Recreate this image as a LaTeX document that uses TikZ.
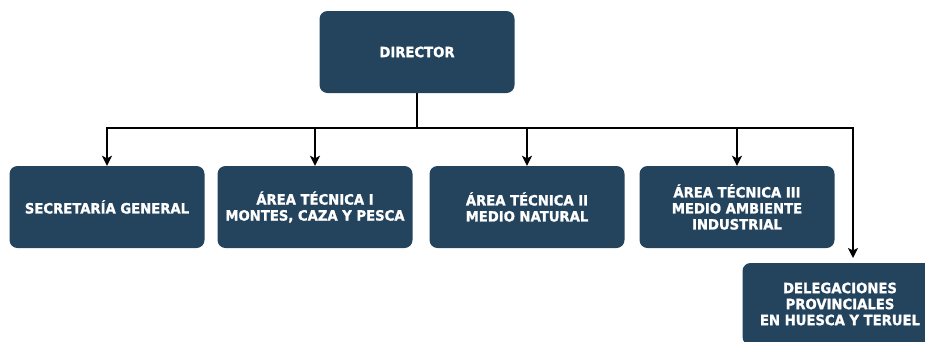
\documentclass[tikz,border=0pt]{standalone}
\usepackage{fontspec}
\setmainfont[FakeStretch=0.93,BoldFeatures={FakeBold=1.2}]{DejaVu Sans}
\usetikzlibrary{arrows.meta,calc}
\definecolor{boxblue}{RGB}{36,68,94}
\begin{document}
\begin{tikzpicture}[x=1pt,y=-1pt,
  orgbox/.style={fill=boxblue,rounded corners=8pt,minimum width=195pt,minimum height=82pt,
    inner sep=2pt,text=white,align=center,font=\fontsize{14.2}{16}\selectfont\bfseries},
  conn/.style={line width=1.8pt,black},
  arr/.style={conn,-{Stealth[length=10pt,width=10pt,inset=2.5pt]}}]
\useasboundingbox (0,0) rectangle (925,341);
\clip (0,0) rectangle (925,341);
\node[orgbox] (dir) at (417,52) {DIRECTOR};
\node[orgbox] (sg) at (107,207) {SECRETARÍA GENERAL};
\node[orgbox] (at1) at (315,207) {ÁREA TÉCNICA I\\MONTES, CAZA Y PESCA};
\node[orgbox] (at2) at (527,207) {ÁREA TÉCNICA II\\MEDIO NATURAL};
\node[orgbox] (at3) at (737,207) {ÁREA TÉCNICA III\\MEDIO AMBIENTE\\INDUSTRIAL};
\node[orgbox] (del) at (840,304) {DELEGACIONES\\PROVINCIALES\\EN HUESCA Y TERUEL};
\coordinate (bus) at (417,128);
\coordinate (delin) at (853,258);
\draw[conn] (dir.south) -- (bus);
\draw[arr] (bus) -| (sg.north);
\draw[arr] (bus) -| (at1.north);
\draw[arr] (bus) -| (at2.north);
\draw[arr] (bus) -| (at3.north);
\draw[arr] (bus) -| (delin);
\end{tikzpicture}
\end{document}
